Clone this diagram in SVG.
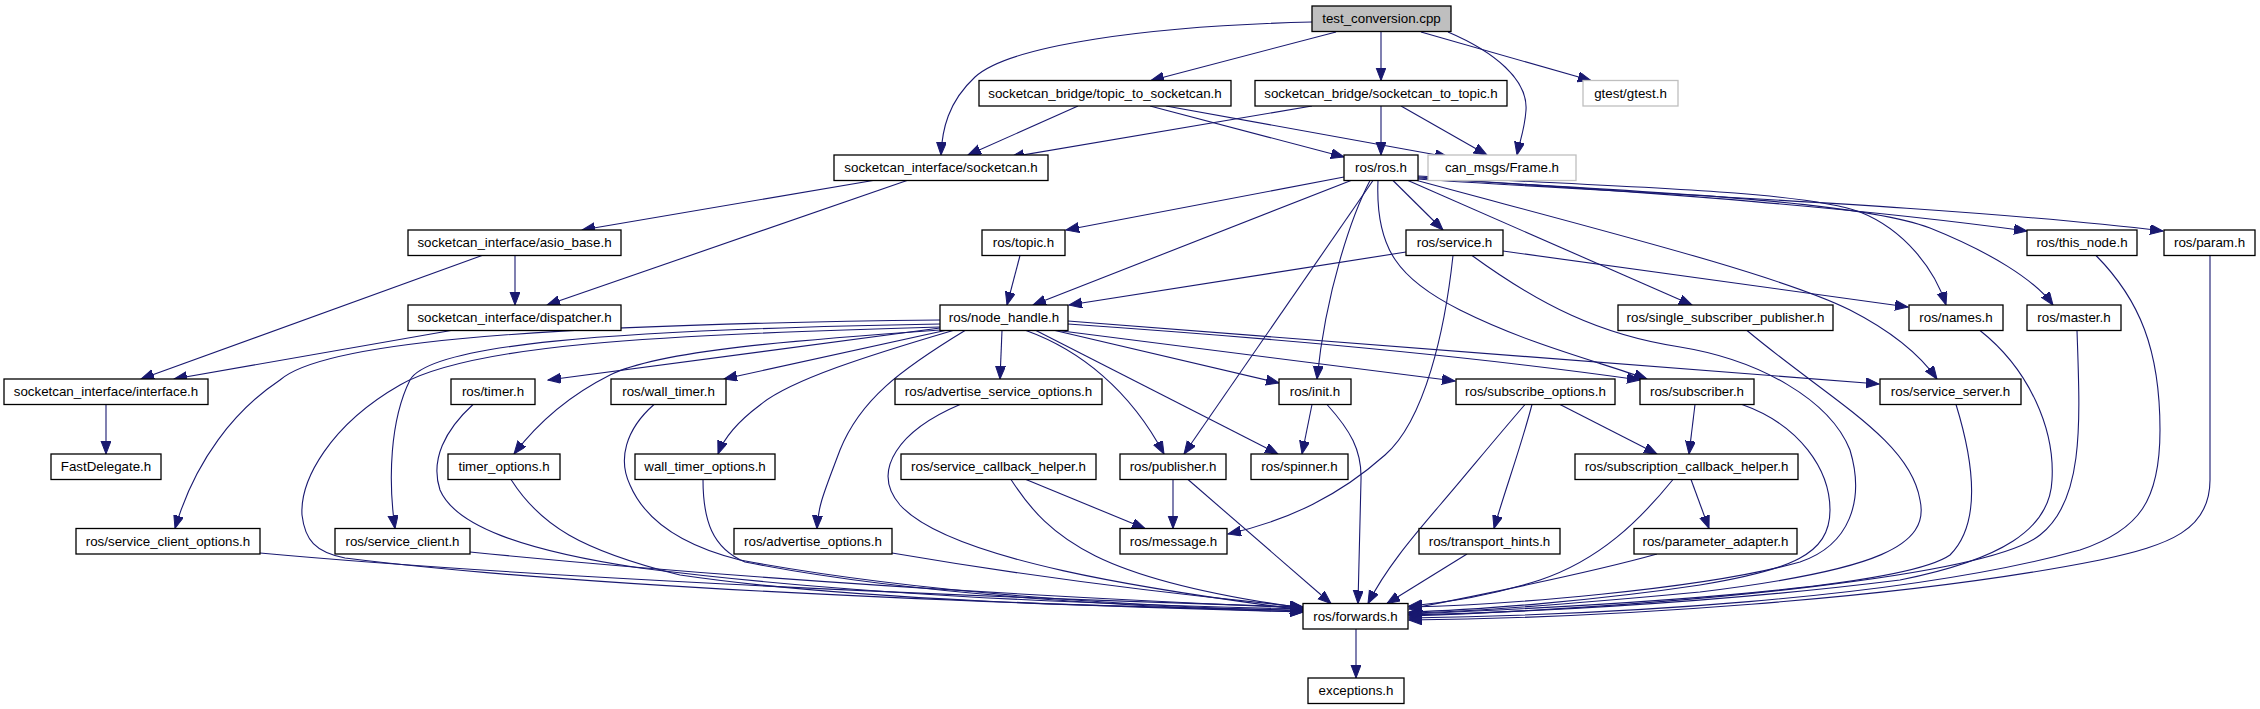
<svg xmlns="http://www.w3.org/2000/svg" width="2260" height="709" viewBox="0 0 2260 709">
<style>
.n rect{fill:#fff;stroke:#000;stroke-width:1.3}
.n.g rect{stroke:#bfbfbf}
.n.root rect{fill:#bfbfbf}
.n text{font-family:"Liberation Sans",Arial,Helvetica,sans-serif;font-size:13.33px;text-anchor:middle;fill:#000}
.e path{fill:none;stroke:#191970;stroke-width:1.1;marker-end:url(#a)}
</style>
<defs>
<marker id="a" markerUnits="userSpaceOnUse" markerWidth="14" markerHeight="11" refX="13" refY="5" orient="auto">
<path d="M0,0 L13,5 L0,10 z" fill="#191970" stroke="#191970" stroke-width="1"/>
</marker>
</defs>
<rect width="2260" height="709" fill="#fff"/>
<g id="edges" class="e">
<path d="M1312,22 C1150,26 1010,45 975,77 C948,102 942,130 941,155"/>
<path d="M1336,32 L1151,80.5"/>
<path d="M1381,32 L1381,80.5"/>
<path d="M1421,32 L1591,80.5"/>
<path d="M1448,32 C1495,52 1528,80 1526,110 C1525,128 1520,140 1517,155"/>
<path d="M1078,106 L968,155"/>
<path d="M1150,106 L1344,157"/>
<path d="M1166,106 L1448,157"/>
<path d="M1312,106 L1011,157"/>
<path d="M1381,106 L1381,155"/>
<path d="M1401,106 L1487,155"/>
<path d="M873,180.5 L582,230"/>
<path d="M907,180.5 L547,305"/>
<path d="M515,255.5 L515,305"/>
<path d="M482,255.5 L141,379"/>
<path d="M451,330.5 L174,379"/>
<path d="M106,404.5 L106,454"/>
<path d="M1344,177 L1066,230"/>
<path d="M1351,180.5 L1033,305"/>
<path d="M1373,180.5 L1184,454"/>
<path d="M1370,180.5 C1352,215 1326,290 1317,379"/>
<path d="M1393,180.5 L1443,230"/>
<path d="M1378,180.5 C1375,250 1400,280 1460,310 C1530,345 1600,362 1647,379"/>
<path d="M1408,180.5 L1692,305"/>
<path d="M1417,180.5 C1600,230 1780,275 1850,310 C1895,333 1920,355 1937,379"/>
<path d="M1418,176 C1600,186 1800,190 1860,212 C1905,230 1935,270 1946,305"/>
<path d="M1418,178 C1600,190 1850,198 1930,228 C1990,252 2035,280 2053,305"/>
<path d="M1418,177 C1550,187 1800,200 2027,231"/>
<path d="M1418,179 C1600,192 1950,205 2163,231"/>
<path d="M1020,255.5 L1007,305"/>
<path d="M1406,252 L1069,305"/>
<path d="M1503,251 L1908,307"/>
<path d="M1453,255.5 C1445,330 1425,420 1385,455 C1340,495 1290,520 1228,534"/>
<path d="M1472,255.5 C1540,305 1600,335 1680,347 C1760,360 1830,400 1850,450 C1865,500 1850,545 1800,562 C1700,590 1500,605 1409,607"/>
<path d="M1058,330.5 L1455,381"/>
<path d="M1068,324 C1300,340 1500,360 1640,380"/>
<path d="M1068,321 C1400,345 1700,368 1879,384"/>
<path d="M1055,330.5 L1279,383"/>
<path d="M1036,330.5 L1278,454"/>
<path d="M1026,330.5 C1080,350 1130,390 1164,454"/>
<path d="M1002,330.5 L1000,379"/>
<path d="M965,330.5 C900,370 860,400 840,450 C825,490 818,505 817,528.5"/>
<path d="M940,324 C600,330 430,345 410,380 C390,420 388,480 395,528.5"/>
<path d="M940,320 C500,325 320,345 280,380 C235,410 195,460 175,528.5"/>
<path d="M940,327 C650,335 470,345 400,385 C330,425 300,480 302,515 C305,540 315,552 345,558 C600,590 1050,605 1303,612"/>
<path d="M940,328 L548,380"/>
<path d="M945,330.5 L724,379"/>
<path d="M940,330 C800,340 660,350 610,375 C570,395 540,420 514,454"/>
<path d="M953,330.5 C870,355 790,380 760,405 C740,420 725,435 718,454"/>
<path d="M260,553 C500,575 900,595 1303,607"/>
<path d="M470,552 C700,575 1000,595 1303,608"/>
<path d="M473,404.5 C445,430 430,460 440,490 C455,525 520,550 640,568 C850,595 1100,605 1303,609"/>
<path d="M511,479.5 C540,525 580,550 680,575 C850,600 1100,607 1303,610"/>
<path d="M654,404.5 C625,430 618,460 630,485 C645,520 680,545 740,560 C900,590 1100,605 1303,611"/>
<path d="M703,479.5 C703,520 712,548 745,562 C900,593 1100,606 1303,612"/>
<path d="M892,553 C1050,580 1200,597 1303,607"/>
<path d="M960,404.5 C900,430 870,470 900,505 C950,560 1150,590 1303,610"/>
<path d="M1011,479.5 C1050,540 1100,580 1303,608"/>
<path d="M1026,479.5 L1145,528.5"/>
<path d="M1173,479.5 L1173,528.5"/>
<path d="M1188,479.5 L1331,603.5"/>
<path d="M1327,404.5 C1350,430 1362,450 1361,480 C1360,530 1359,570 1358,603.5"/>
<path d="M1312,404.5 L1302,454"/>
<path d="M1525,404.5 C1490,445 1470,470 1440,505 C1410,540 1385,570 1368,603.5"/>
<path d="M1532,404.5 C1520,450 1505,490 1494,528.5"/>
<path d="M1560,404.5 L1657,454"/>
<path d="M1695,404.5 L1689,454"/>
<path d="M1742,404.5 C1800,425 1830,470 1830,510 C1830,555 1790,570 1700,585 C1600,600 1480,610 1409,612"/>
<path d="M1467,554 L1387,603.5"/>
<path d="M1673,479.5 C1640,520 1600,560 1540,580 C1490,596 1450,602 1409,606"/>
<path d="M1691,479.5 L1709,528.5"/>
<path d="M1657,554 C1600,570 1480,595 1409,609"/>
<path d="M1747,330.5 C1830,400 1910,440 1920,500 C1930,545 1880,570 1700,592 C1550,606 1460,612 1409,613"/>
<path d="M1956,404.5 C1970,450 1985,520 1950,555 C1900,590 1600,606 1409,614"/>
<path d="M1980,330.5 C2030,370 2055,430 2052,480 C2050,530 2000,560 1900,580 C1700,605 1500,613 1409,615"/>
<path d="M2077,330.5 C2080,420 2085,500 2040,535 C1990,575 1700,605 1409,616"/>
<path d="M2096,255.5 C2140,300 2160,350 2160,430 C2160,500 2140,530 2080,550 C1900,600 1600,615 1409,618"/>
<path d="M2210,255.5 L2210,480 C2210,530 2170,545 2100,560 C1900,600 1600,618 1409,620"/>
<path d="M1356,629 L1356,678"/>
</g>
<g id="test_conversion_cpp" class="n root"><rect x="1312" y="6" width="139" height="25.5"/><text x="1381.5" y="23">test_conversion.cpp</text></g>
<g id="topic_to_socketcan_h" class="n"><rect x="979" y="80.5" width="252" height="25.5"/><text x="1105" y="97.5">socketcan_bridge/topic_to_socketcan.h</text></g>
<g id="socketcan_to_topic_h" class="n"><rect x="1255" y="80.5" width="252" height="25.5"/><text x="1381" y="97.5">socketcan_bridge/socketcan_to_topic.h</text></g>
<g id="gtest_h" class="n g"><rect x="1583" y="80.5" width="95" height="25.5"/><text x="1630.5" y="97.5">gtest/gtest.h</text></g>
<g id="socketcan_h" class="n"><rect x="834" y="155" width="214" height="25.5"/><text x="941" y="172">socketcan_interface/socketcan.h</text></g>
<g id="ros_h" class="n"><rect x="1344" y="155" width="74" height="25.5"/><text x="1381" y="172">ros/ros.h</text></g>
<g id="frame_h" class="n g"><rect x="1428" y="155" width="148" height="25.5"/><text x="1502" y="172">can_msgs/Frame.h</text></g>
<g id="asio_base_h" class="n"><rect x="408" y="230" width="213" height="25.5"/><text x="514.5" y="247">socketcan_interface/asio_base.h</text></g>
<g id="topic_h" class="n"><rect x="982" y="230" width="83" height="25.5"/><text x="1023.5" y="247">ros/topic.h</text></g>
<g id="service_h" class="n"><rect x="1406" y="230" width="97" height="25.5"/><text x="1454.5" y="247">ros/service.h</text></g>
<g id="this_node_h" class="n"><rect x="2027" y="230" width="110" height="25.5"/><text x="2082" y="247">ros/this_node.h</text></g>
<g id="param_h" class="n"><rect x="2164" y="230" width="91" height="25.5"/><text x="2209.5" y="247">ros/param.h</text></g>
<g id="dispatcher_h" class="n"><rect x="408" y="305" width="213" height="25.5"/><text x="514.5" y="322">socketcan_interface/dispatcher.h</text></g>
<g id="node_handle_h" class="n"><rect x="940" y="305" width="128" height="25.5"/><text x="1004" y="322">ros/node_handle.h</text></g>
<g id="single_subscriber_publisher_h" class="n"><rect x="1618" y="305" width="215" height="25.5"/><text x="1725.5" y="322">ros/single_subscriber_publisher.h</text></g>
<g id="names_h" class="n"><rect x="1909" y="305" width="94" height="25.5"/><text x="1956" y="322">ros/names.h</text></g>
<g id="master_h" class="n"><rect x="2027" y="305" width="94" height="25.5"/><text x="2074" y="322">ros/master.h</text></g>
<g id="interface_h" class="n"><rect x="4" y="379" width="204" height="25.5"/><text x="106" y="396">socketcan_interface/interface.h</text></g>
<g id="timer_h" class="n"><rect x="451" y="379" width="84" height="25.5"/><text x="493" y="396">ros/timer.h</text></g>
<g id="wall_timer_h" class="n"><rect x="611" y="379" width="115" height="25.5"/><text x="668.5" y="396">ros/wall_timer.h</text></g>
<g id="advertise_service_options_h" class="n"><rect x="895" y="379" width="207" height="25.5"/><text x="998.5" y="396">ros/advertise_service_options.h</text></g>
<g id="init_h" class="n"><rect x="1279" y="379" width="72" height="25.5"/><text x="1315" y="396">ros/init.h</text></g>
<g id="subscribe_options_h" class="n"><rect x="1456" y="379" width="159" height="25.5"/><text x="1535.5" y="396">ros/subscribe_options.h</text></g>
<g id="subscriber_h" class="n"><rect x="1640" y="379" width="114" height="25.5"/><text x="1697" y="396">ros/subscriber.h</text></g>
<g id="service_server_h" class="n"><rect x="1880" y="379" width="141" height="25.5"/><text x="1950.5" y="396">ros/service_server.h</text></g>
<g id="FastDelegate_h" class="n"><rect x="51" y="454" width="110" height="25.5"/><text x="106" y="471">FastDelegate.h</text></g>
<g id="timer_options_h" class="n"><rect x="448" y="454" width="112" height="25.5"/><text x="504" y="471">timer_options.h</text></g>
<g id="wall_timer_options_h" class="n"><rect x="635" y="454" width="140" height="25.5"/><text x="705" y="471">wall_timer_options.h</text></g>
<g id="service_callback_helper_h" class="n"><rect x="901" y="454" width="195" height="25.5"/><text x="998.5" y="471">ros/service_callback_helper.h</text></g>
<g id="publisher_h" class="n"><rect x="1120" y="454" width="106" height="25.5"/><text x="1173" y="471">ros/publisher.h</text></g>
<g id="spinner_h" class="n"><rect x="1251" y="454" width="97" height="25.5"/><text x="1299.5" y="471">ros/spinner.h</text></g>
<g id="subscription_callback_helper_h" class="n"><rect x="1575" y="454" width="223" height="25.5"/><text x="1686.5" y="471">ros/subscription_callback_helper.h</text></g>
<g id="service_client_options_h" class="n"><rect x="76" y="528.5" width="184" height="25.5"/><text x="168" y="545.5">ros/service_client_options.h</text></g>
<g id="service_client_h" class="n"><rect x="335" y="528.5" width="135" height="25.5"/><text x="402.5" y="545.5">ros/service_client.h</text></g>
<g id="advertise_options_h" class="n"><rect x="734" y="528.5" width="158" height="25.5"/><text x="813" y="545.5">ros/advertise_options.h</text></g>
<g id="message_h" class="n"><rect x="1120" y="528.5" width="107" height="25.5"/><text x="1173.5" y="545.5">ros/message.h</text></g>
<g id="transport_hints_h" class="n"><rect x="1419" y="528.5" width="141" height="25.5"/><text x="1489.5" y="545.5">ros/transport_hints.h</text></g>
<g id="parameter_adapter_h" class="n"><rect x="1634" y="528.5" width="163" height="25.5"/><text x="1715.5" y="545.5">ros/parameter_adapter.h</text></g>
<g id="forwards_h" class="n"><rect x="1303" y="603.5" width="105" height="25.5"/><text x="1355.5" y="620.5">ros/forwards.h</text></g>
<g id="exceptions_h" class="n"><rect x="1308" y="678" width="96" height="25.5"/><text x="1356" y="695">exceptions.h</text></g>
</svg>
